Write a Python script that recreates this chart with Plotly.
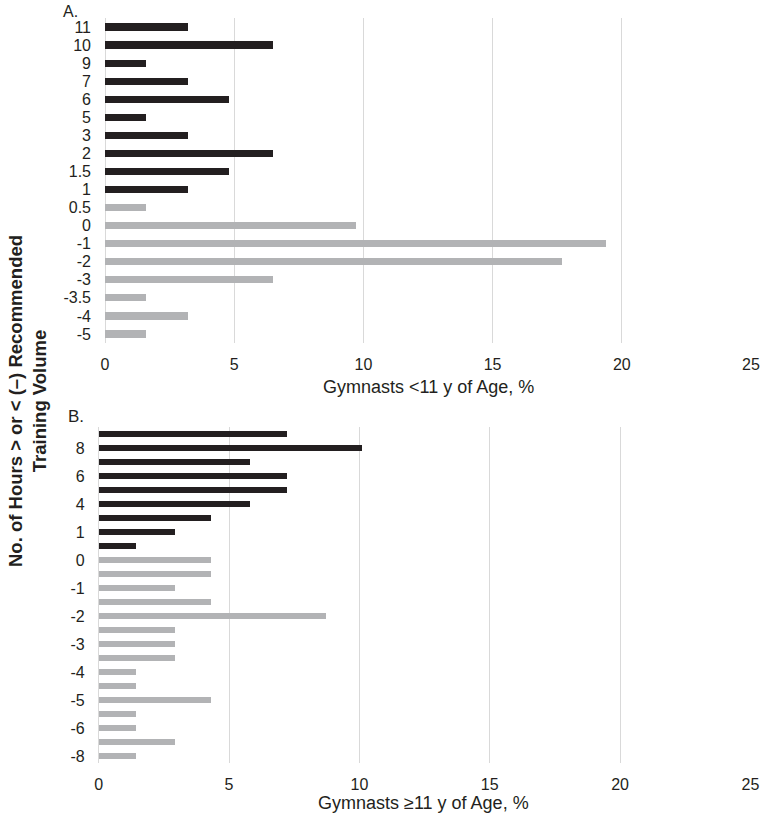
import plotly.graph_objects as go

# ---------------- data ----------------
# Panel A: gymnasts <11 y of age (top to bottom)
a_labels = ["11", "10", "9", "7", "6", "5", "3", "2", "1.5", "1",
            "0.5", "0", "-1", "-2", "-3", "-3.5", "-4", "-5"]
a_values = [3.2, 6.5, 1.6, 3.2, 4.8, 1.6, 3.2, 6.5, 4.8, 3.2,
            1.6, 9.7, 19.4, 17.7, 6.5, 1.6, 3.2, 1.6]
a_over = [True] * 10 + [False] * 8

# Panel B: gymnasts >=11 y of age (top to bottom); only every other label shown
b_labels = ["", "8", "", "6", "", "4", "", "1", "", "0", "", "-1",
            "", "-2", "", "-3", "", "-4", "", "-5", "", "-6", "", "-8"]
b_values = [7.2, 10.1, 5.8, 7.2, 7.2, 5.8, 4.3, 2.9, 1.4, 4.3, 4.3, 2.9,
            4.3, 8.7, 2.9, 2.9, 2.9, 1.4, 1.4, 4.3, 1.4, 1.4, 2.9, 1.4]
b_over = [True] * 9 + [False] * 15

x_ticks = [0, 5, 10, 15, 20, 25]

# ---------------- style ----------------
W, H = 760, 816
DARK = "#231f20"
GRAY = "#b2b3b5"
GRID = "#d9d9d9"
FONT = "Liberation Sans, Arial, sans-serif"
TXT = "#231f20"


def py(px):
    return 1 - px / H


def pxx(px):
    return px / W


fig = go.Figure()

fig.add_trace(go.Bar(
    x=a_values, y=list(range(len(a_values))), orientation="h",
    marker=dict(color=[DARK if o else GRAY for o in a_over], line=dict(width=0)),
    width=0.4, xaxis="x", yaxis="y", showlegend=False,
))
fig.add_trace(go.Bar(
    x=b_values, y=list(range(len(b_values))), orientation="h",
    marker=dict(color=[DARK if o else GRAY for o in b_over], line=dict(width=0)),
    width=0.38, xaxis="x2", yaxis="y2", showlegend=False,
))

xcommon = dict(range=[0, 25], tickvals=x_ticks, showgrid=True, gridcolor=GRID,
               gridwidth=1, zeroline=True, zerolinecolor=GRID, zerolinewidth=1,
               showline=False, ticks="", fixedrange=True, automargin=False,
               ticklabelstandoff=10,
               tickfont=dict(family=FONT, size=16, color=TXT))
ycommon = dict(autorange=False, showgrid=False, zeroline=False, showline=False,
               ticks="", ticklabelstandoff=13, automargin=False, fixedrange=True,
               tickfont=dict(family=FONT, size=16, color=TXT))

nA = len(a_labels)
nB = len(b_labels)
b_tickvals = [i for i, t in enumerate(b_labels) if t]
b_ticktext = [t for t in b_labels if t]

fig.update_layout(
    width=W, height=H, margin=dict(l=0, r=0, t=0, b=0, autoexpand=False),
    paper_bgcolor="white", plot_bgcolor="white",
    font=dict(family=FONT, color=TXT),
    bargap=0,
    xaxis=dict(domain=[pxx(105), pxx(751)], anchor="y", **xcommon),
    yaxis=dict(domain=[py(343), py(18)], anchor="x",
               range=[nA - 0.5, -0.5],
               tickvals=list(range(nA)), ticktext=a_labels, **ycommon),
    xaxis2=dict(domain=[pxx(98.7), pxx(750.4)], anchor="y2", **xcommon),
    yaxis2=dict(domain=[py(763.3), py(427.3)], anchor="x2",
                range=[nB - 0.5, -0.5],
                tickvals=b_tickvals, ticktext=b_ticktext, **ycommon),
)

ann = [
    dict(text="A.", x=pxx(61), y=py(1), xanchor="left", yanchor="top",
         font=dict(size=16)),
    dict(text="B.", x=pxx(66), y=py(416), xanchor="left", yanchor="middle",
         font=dict(size=17)),
    dict(text="Gymnasts &lt;11 y of Age, %", x=pxx(428), y=py(387),
         xanchor="center", yanchor="middle", font=dict(size=18)),
    dict(text="Gymnasts ≥11 y of Age, %", x=pxx(424), y=py(803),
         xanchor="center", yanchor="middle", font=dict(size=18)),
    dict(text="<b>No. of Hours &gt; or &lt; (–) Recommended<br>Training Volume</b>",
         x=pxx(27), y=py(401), xanchor="center", yanchor="middle",
         textangle=-90, font=dict(size=18.5)),
]
for a in ann:
    a.update(xref="paper", yref="paper", showarrow=False)
    a["font"] = dict(family=FONT, color=TXT, **a["font"])
fig.update_layout(annotations=ann)

fig.write_html(
    "out.html",
    config={"displayModeBar": False},
    post_script="document.body.style.margin='0';document.body.style.overflow='hidden';",
)
